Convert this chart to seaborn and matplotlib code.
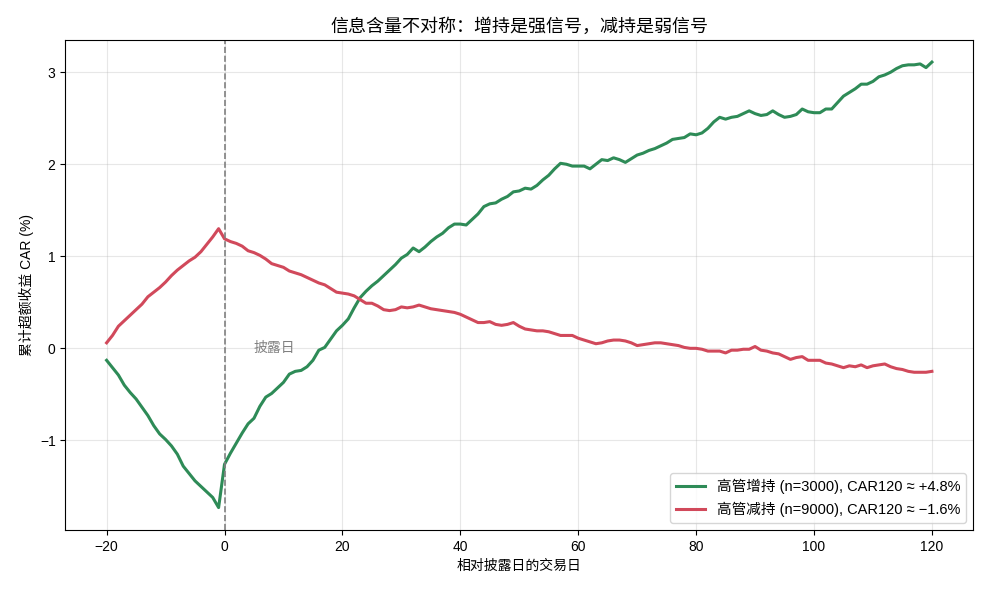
import numpy as np
import pandas as pd
import matplotlib
matplotlib.use("Agg")
import matplotlib.pyplot as plt
import seaborn as sns

days = list(range(-20, 121))

car_buy = [
    -0.13, -0.21, -0.29, -0.40, -0.48, -0.55, -0.64, -0.73, -0.84, -0.93,
    -0.99, -1.06, -1.15, -1.28, -1.36, -1.44, -1.50, -1.56, -1.62, -1.73,
    -1.26, -1.14, -1.03, -0.92, -0.82, -0.76, -0.63, -0.53, -0.49, -0.43,
    -0.37, -0.28, -0.25, -0.24, -0.20, -0.13, -0.02, 0.01, 0.10, 0.19,
    0.25, 0.32, 0.44, 0.55, 0.62, 0.68, 0.73, 0.79, 0.85, 0.91,
    0.98, 1.02, 1.09, 1.05, 1.10, 1.16, 1.21, 1.25, 1.31, 1.35,
    1.35, 1.34, 1.40, 1.46, 1.54, 1.57, 1.58, 1.62, 1.65, 1.70,
    1.71, 1.74, 1.73, 1.77, 1.83, 1.88, 1.95, 2.01, 2.00, 1.98,
    1.98, 1.98, 1.95, 2.00, 2.05, 2.04, 2.07, 2.05, 2.02, 2.06,
    2.10, 2.12, 2.15, 2.17, 2.20, 2.23, 2.27, 2.28, 2.29, 2.33,
    2.32, 2.34, 2.39, 2.46, 2.51, 2.49, 2.51, 2.52, 2.55, 2.58,
    2.55, 2.53, 2.54, 2.58, 2.54, 2.51, 2.52, 2.54, 2.60, 2.57,
    2.56, 2.56, 2.60, 2.60, 2.67, 2.74, 2.78, 2.82, 2.87, 2.87,
    2.90, 2.95, 2.97, 3.00, 3.04, 3.07, 3.08, 3.08, 3.09, 3.05,
    3.11,
]

car_sell = [
    0.06, 0.14, 0.24, 0.30, 0.36, 0.42, 0.48, 0.56, 0.61, 0.66,
    0.72, 0.79, 0.85, 0.90, 0.95, 0.99, 1.05, 1.13, 1.21, 1.30,
    1.19, 1.16, 1.14, 1.11, 1.06, 1.04, 1.01, 0.97, 0.92, 0.90,
    0.88, 0.84, 0.82, 0.80, 0.77, 0.74, 0.71, 0.69, 0.65, 0.61,
    0.60, 0.59, 0.57, 0.53, 0.49, 0.49, 0.46, 0.42, 0.41, 0.42,
    0.45, 0.44, 0.45, 0.47, 0.45, 0.43, 0.42, 0.41, 0.40, 0.39,
    0.37, 0.34, 0.31, 0.28, 0.28, 0.29, 0.26, 0.25, 0.26, 0.28,
    0.24, 0.21, 0.20, 0.19, 0.19, 0.18, 0.16, 0.14, 0.14, 0.14,
    0.11, 0.09, 0.07, 0.05, 0.06, 0.08, 0.09, 0.09, 0.08, 0.06,
    0.03, 0.04, 0.05, 0.06, 0.06, 0.05, 0.04, 0.03, 0.01, 0.00,
    0.00, -0.01, -0.03, -0.03, -0.03, -0.05, -0.02, -0.02, -0.01, -0.01,
    0.02, -0.02, -0.03, -0.05, -0.06, -0.09, -0.12, -0.10, -0.09, -0.13,
    -0.13, -0.13, -0.16, -0.17, -0.19, -0.21, -0.19, -0.20, -0.18, -0.21,
    -0.19, -0.18, -0.17, -0.20, -0.22, -0.23, -0.25, -0.26, -0.26, -0.26,
    -0.25,
]

label_buy = "高管增持 (n=3000), CAR120 ≈ +4.8%"
label_sell = "高管减持 (n=9000), CAR120 ≈ −1.6%"

plt.rcParams['font.family'] = ['Liberation Sans', 'Noto Sans CJK SC', 'DejaVu Sans']
plt.rcParams['axes.unicode_minus'] = True

df = pd.concat([
    pd.DataFrame({"day": days, "car": car_buy, "group": label_buy}),
    pd.DataFrame({"day": days, "car": car_sell, "group": label_sell}),
])

pal = {label_buy: "#2E8B57", label_sell: "#D1495B"}

fig, ax = plt.subplots(figsize=(9.9, 5.94), dpi=100)
sns.lineplot(data=df, x="day", y="car", hue="group", palette=pal,
             linewidth=2.2, ax=ax)

ax.axvline(0, color="gray", linestyle="--", linewidth=1.2)
ax.text(5, 0, "披露日", color="gray", fontsize=10, ha="left", va="center")

ax.grid(True, alpha=0.3)
ax.set_title("信息含量不对称：增持是强信号，减持是弱信号", fontsize=13)
ax.set_xlabel("相对披露日的交易日", fontsize=10)
ax.set_ylabel("累计超额收益 CAR (%)", fontsize=10)
ax.legend(loc="lower right", fontsize=10.5, title=None)

plt.subplots_adjust(left=0.066, right=0.983, top=0.933, bottom=0.108)
plt.savefig("out.png", dpi=100)
plt.close()
